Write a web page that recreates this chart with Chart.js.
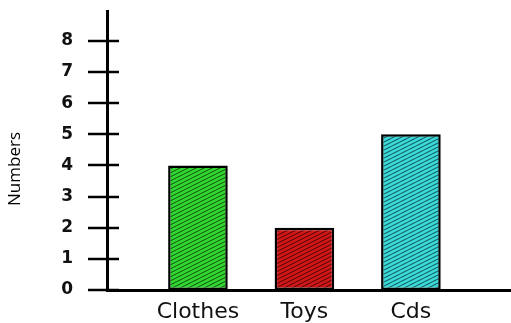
<!DOCTYPE html>
<html>
<head>
<meta charset="utf-8">
<script src="https://cdn.jsdelivr.net/npm/chart.js@4"></script>
<style>
  html, body { margin: 0; padding: 0; background: #fff; }
</style>
</head>
<body>
<canvas id="barChart" width="511" height="323"></canvas>
<script>
let categories = ["Clothes", "Toys", "Cds"];
let counts = [4, 2, 5];
let yTicks = [0, 1, 2, 3, 4, 5, 6, 7, 8];
let yTitle = "Numbers";

// fill + stripe colour per bar
let barFills = ["#33d833", "#d01818", "#3cdada"];
let barStripes = ["#0f5e0f", "#5a0606", "#115c5c"];

// diagonal hatching, lines going up to the right
const makeHatch = (fill, stripe) => {
	let c = document.createElement("canvas");
	c.width = 8;
	c.height = 4;
	let g = c.getContext("2d");
	g.fillStyle = fill;
	g.fillRect(0, 0, 8, 4);
	g.strokeStyle = stripe;
	g.lineWidth = 1.1;
	g.beginPath();
	g.moveTo(-8, 6); g.lineTo(8, -2);
	g.moveTo(0, 6); g.lineTo(16, -2);
	g.stroke();
	return g.createPattern(c, "repeat");
};

// ticks that cross the y axis, plus the axis title
const axisMarks = {
	id: "axisMarks",
	afterDraw(chart) {
		const { ctx, chartArea, scales } = chart;
		const y = scales.y;
		ctx.save();
		ctx.strokeStyle = "#000";
		ctx.lineWidth = 2.5;
		y.ticks.forEach((t) => {
			let py = Math.round(y.getPixelForValue(t.value));
			ctx.beginPath();
			ctx.moveTo(chartArea.left - 19, py);
			ctx.lineTo(chartArea.left + 12, py);
			ctx.stroke();
		});
		ctx.translate(20, 169);
		ctx.rotate(-Math.PI / 2);
		ctx.fillStyle = "#000";
		ctx.font = "17px 'Open Sans'";
		ctx.textAlign = "center";
		ctx.textBaseline = "alphabetic";
		ctx.fillText(yTitle, 0, 0);
		ctx.restore();
	},
};

let barCanvas = document.getElementById("barChart");
let patterns = barFills.map((f, i) => makeHatch(f, barStripes[i]));

let barData = {
	datasets: [
		{
			data: categories.map((c, i) => ({ x: i + 1, y: counts[i] })),
			backgroundColor: patterns,
			borderColor: "#000",
			borderWidth: 2.5,
			borderSkipped: false,
			barPercentage: 0.56,
			categoryPercentage: 1,
		},
	],
};

let chartOptions = {
	responsive: false,
	animation: false,
	layout: { padding: { top: 7, right: 0, left: 0, bottom: 0 } },
	plugins: {
		legend: { display: false },
		tooltip: { enabled: false },
	},
	scales: {
		x: {
			type: "linear",
			offset: false,
			min: 0.146,
			max: 3.94,
			afterBuildTicks: (s) => {
				s.ticks = categories.map((c, i) => ({ value: i + 1 }));
			},
			afterFit: (s) => {
				s.height = 33;
			},
			grid: { display: false, drawTicks: true, tickLength: 9 },
			border: { color: "#000", width: 3 },
			ticks: {
				callback: (v) => categories[v - 1],
				color: "#111",
				font: { family: "'DejaVu Sans'", size: 22 },
				padding: 0,
				maxRotation: 0,
			},
		},
		y: {
			min: 0,
			max: 8.95,
			afterBuildTicks: (s) => {
				s.ticks = yTicks.map((v) => ({ value: v }));
			},
			afterFit: (s) => {
				s.width = 107;
			},
			grid: { display: false, drawTicks: true, tickLength: 33 },
			border: { color: "#000", width: 3 },
			ticks: {
				color: "#111",
				font: { family: "'DejaVu Sans'", size: 17, weight: "bold" },
				padding: 1,
			},
		},
	},
};

new Chart(barCanvas, {
	type: "bar",
	data: barData,
	options: chartOptions,
	plugins: [axisMarks],
});
</script>
</body>
</html>
